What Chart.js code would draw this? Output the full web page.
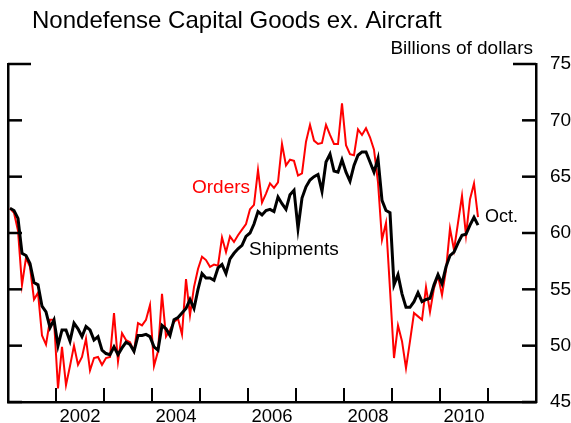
<!DOCTYPE html>
<html>
<head>
<meta charset="utf-8">
<script src="https://cdn.jsdelivr.net/npm/chart.js@4"></script>
<style>
  html, body { margin: 0; padding: 0; background: #fff; }
  #wrap { width: 571px; height: 423px; }
</style>
</head>
<body>
<div id="wrap"><canvas id="chart" width="571" height="423"></canvas></div>
<script>
// monthly, Jan 2001 .. Oct 2010
const startYear = 2001;

const shipments = [
  62.2, 62.0, 61.3, 58.2, 58.0, 57.3, 55.6, 55.4, 53.5, 53.0, 51.6, 52.3, // 2001
  50.0, 51.4, 51.4, 50.4, 52.0, 51.5, 50.8, 51.7, 51.4, 50.5, 50.8, 49.6, // 2002
  49.3, 49.2, 49.9, 49.2, 49.8, 50.3, 50.1, 49.5, 50.9, 50.9, 51.0, 50.8, // 2003
  49.9, 49.6, 51.8, 51.5, 50.9, 52.3, 52.5, 52.9, 53.3, 54.1, 53.3, 55.0, // 2004
  56.4, 56.0, 56.0, 55.8, 56.9, 57.2, 56.4, 57.7, 58.2, 58.6, 58.9, 59.7, // 2005
  60.0, 60.8, 61.9, 61.6, 62.0, 62.1, 61.9, 63.2, 62.6, 62.1, 63.4, 63.8, // 2006
  60.4, 63.1, 64.1, 64.7, 65.0, 65.2, 63.7, 66.3, 67.0, 65.5, 65.4, 66.5, // 2007
  65.4, 64.6, 66.0, 66.9, 67.2, 67.2, 66.3, 65.4, 66.6, 62.9, 62.0, 61.8, // 2008
  55.4, 56.3, 54.6, 53.4, 53.4, 53.9, 54.7, 53.9, 54.1, 54.2, 55.4, 56.3, // 2009
  55.5, 57.0, 58.0, 58.3, 59.1, 59.8, 59.9, 60.7, 61.4, 60.7              // 2010
];

const orders = [
  62.2, 61.8, 60.2, 55.4, 57.8, 57.0, 54.1, 54.7, 50.9, 50.1, 52.3, 52.3, // 2001
  46.2, 49.9, 46.5, 48.2, 50.0, 48.3, 49.0, 50.6, 47.8, 48.9, 49.0, 48.3, // 2002
  48.9, 49.0, 52.9, 48.6, 51.1, 50.5, 50.3, 49.5, 52.0, 51.8, 52.3, 53.6, // 2003
  48.2, 49.5, 54.6, 50.8, 51.4, 52.1, 52.4, 51.0, 55.9, 52.7, 55.2, 56.8, // 2004
  57.9, 57.6, 57.0, 57.2, 57.1, 59.6, 58.3, 59.7, 59.2, 59.8, 60.3, 60.8, // 2005
  62.1, 62.5, 65.6, 62.7, 63.5, 64.4, 64.0, 64.5, 67.9, 66.0, 66.5, 66.4, // 2006
  65.1, 65.3, 68.1, 69.6, 68.2, 67.9, 68.0, 69.6, 68.7, 67.9, 67.9, 71.5, // 2007
  67.8, 67.0, 66.9, 69.2, 68.7, 69.3, 68.5, 67.4, 64.5, 59.4, 60.9, 55.0, // 2008
  48.9, 51.8, 50.4, 48.0, 50.4, 52.9, 52.6, 52.3, 55.2, 53.0, 55.1, 56.2, // 2009
  54.5, 56.7, 60.4, 58.5, 60.9, 63.3, 59.8, 63.0, 64.4, 61.4              // 2010
];

const yMin = 45, yMax = 75, yStep = 5;
const xMin = 2001, xMax = 2012;
const yearLabels = [2002, 2004, 2006, 2008, 2010];

const FONT = '"Liberation Sans", Arial, Helvetica, sans-serif';
const toPoints = arr => arr.map((v, i) => ({ x: startYear + (i + 0.5) / 12, y: v }));

// inward tick marks + free text
const decorations = {
  id: 'decorations',
  afterDraw(chart) {
    const ctx = chart.ctx;
    const a = chart.chartArea;
    const xs = chart.scales.x, ys = chart.scales.y;
    ctx.save();
    ctx.fillStyle = '#000';
    for (let v = yMin; v <= yMax; v += yStep) {
      const py = ys.getPixelForValue(v);
      const len = v === yMax ? 23 : 14;
      ctx.fillRect(a.left, py - 1.25, len, 2.5);
      ctx.fillRect(a.right - len, py - 1.25, len, 2.5);
    }
    // year ticks, pointing up from the bottom axis
    for (let yr = xMin + 1; yr < xMax; yr++) {
      const px = xs.getPixelForValue(yr);
      ctx.fillRect(px - 1, a.bottom - 14, 2, 14);
    }

    ctx.textBaseline = 'alphabetic';
    ctx.font = '24px ' + FONT;
    ctx.textAlign = 'left';
    ctx.fillText('Nondefense Capital Goods ex. Aircraft', 32, 28);

    ctx.font = '19px ' + FONT;
    ctx.textAlign = 'right';
    ctx.fillText('Billions of dollars', 533, 54);

    ctx.textAlign = 'left';
    ctx.fillStyle = '#ff0000';
    ctx.fillText('Orders', 192, 193);
    ctx.fillStyle = '#000';
    ctx.fillText('Shipments', 249, 254.5);
    ctx.font = '18px ' + FONT;
    ctx.fillText('Oct.', 485, 222);
    ctx.restore();
  }
};

new Chart(document.getElementById('chart'), {
  type: 'line',
  data: {
    datasets: [
      {
        label: 'Shipments',
        data: toPoints(shipments),
        borderColor: '#000',
        borderWidth: 3,
        pointRadius: 0,
        tension: 0,
        order: 0
      },
      {
        label: 'Orders',
        data: toPoints(orders),
        borderColor: '#ff0000',
        borderWidth: 2,
        pointRadius: 0,
        tension: 0,
        order: 1
      }
    ]
  },
  options: {
    responsive: false,
    animation: false,
    devicePixelRatio: 1,
    layout: { padding: { top: 64, left: 0, right: 0, bottom: 0 } },
    plugins: {
      legend: { display: false },
      tooltip: { enabled: false },
      title: { display: false }
    },
    scales: {
      x: {
        type: 'linear',
        position: 'bottom',
        min: xMin,
        max: xMax,
        grid: { display: false },
        border: { display: true, color: '#000', width: 2.5 },
        ticks: {
          stepSize: 1,
          autoSkip: false,
          maxRotation: 0,
          minRotation: 0,
          labelOffset: 24,
          padding: -4,
          color: '#000',
          font: { family: FONT, size: 18.5 },
          callback: v => yearLabels.includes(v) ? String(v) : ''
        },
        afterFit: s => { s.height = 21; }
      },
      y: {
        position: 'right',
        min: yMin,
        max: yMax,
        grid: { display: false },
        border: { display: true, color: '#000', width: 2.5 },
        ticks: {
          stepSize: yStep,
          padding: 6,
          color: '#000',
          font: { family: FONT, size: 19 }
        },
        afterFit: s => { s.width = 35; }
      },
      yLeft: {
        position: 'left',
        min: yMin,
        max: yMax,
        grid: { display: false },
        border: { display: true, color: '#000', width: 2.5 },
        ticks: { display: false },
        afterFit: s => { s.width = 8; }
      }
    }
  },
  plugins: [decorations]
});
</script>
</body>
</html>
